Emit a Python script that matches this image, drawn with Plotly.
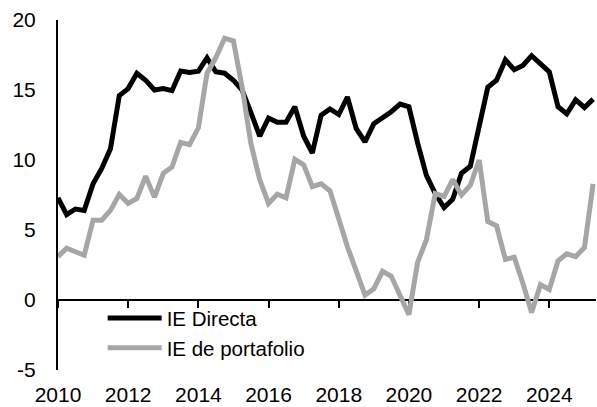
import pandas as pd
import plotly.graph_objects as go

# quarterly, 2010Q1 .. 2025Q2
quarters = pd.date_range("2010-01-01", periods=62, freq="QS")

ie_directa = [
    7.3, 6.1, 6.5, 6.4, 8.3, 9.4, 10.8, 14.6, 15.1, 16.2,
    15.7, 15.0, 15.1, 14.95, 16.35, 16.25, 16.35, 17.3, 16.3, 16.2,
    15.7, 15.0, 13.4, 11.7, 13.0, 12.7, 12.7, 13.8, 11.7, 10.5,
    13.2, 13.65, 13.25, 14.5, 12.25, 11.3, 12.6, 13.0, 13.45, 14.0,
    13.8, 11.2, 8.9, 7.6, 6.6, 7.2, 9.05, 9.55, 12.3, 15.2,
    15.7, 17.15, 16.45, 16.75, 17.45, 16.9, 16.3, 13.8, 13.3, 14.3,
    13.75, 14.35,
]
ie_portafolio = [
    3.1, 3.7, 3.45, 3.2, 5.7, 5.7, 6.4, 7.55, 6.9, 7.25,
    8.85, 7.35, 9.05, 9.5, 11.25, 11.1, 12.3, 16.2, 17.3, 18.7,
    18.5, 15.2, 11.2, 8.6, 6.9, 7.55, 7.3, 10.05, 9.65, 8.1,
    8.3, 7.8, 5.8, 3.8, 2.1, 0.35, 0.8, 2.05, 1.7, 0.35,
    -1.05, 2.7, 4.3, 7.6, 7.4, 8.6, 7.5, 8.2, 10.0, 5.6,
    5.3, 2.9, 3.05, 1.2, -0.9, 1.1, 0.75, 2.8, 3.3, 3.1,
    3.75, 8.3,
]

y_ticks = [-5, 0, 5, 10, 15, 20]
y_ticktext = ["-5", "0", "5", "10", "15", "20"]

FONT = "Arial, 'Liberation Sans', sans-serif"
x_range = ["2010-01-01", "2025-05-01"]

fig = go.Figure()
fig.add_trace(go.Scatter(
    x=quarters, y=ie_directa, name="IE Directa", mode="lines",
    line=dict(color="#000000", width=5), xaxis="x", yaxis="y",
))
fig.add_trace(go.Scatter(
    x=quarters, y=ie_portafolio, name="IE de portafolio", mode="lines",
    line=dict(color="#A6A6A6", width=5), xaxis="x2", yaxis="y",
))

fig.update_layout(
    width=597, height=407,
    margin=dict(l=58, r=1, t=20, b=37),
    paper_bgcolor="white", plot_bgcolor="white",
    font=dict(family=FONT, size=21, color="#000000"),
    showlegend=True,
    legend=dict(
        x=0.083, y=0.205, xanchor="left", yanchor="top",
        bgcolor="rgba(0,0,0,0)", itemwidth=54,
        font=dict(size=20.5), tracegroupgap=0,
    ),
    # tick labels at the bottom
    xaxis=dict(
        type="date", range=x_range, tick0="2010-01-01", dtick="M24",
        tickformat="%Y", showgrid=False, zeroline=False, showline=False,
        ticks="", ticklabelstandoff=10, anchor="y",
    ),
    # axis line with tick marks crossing at y = 0
    xaxis2=dict(
        type="date", matches="x", overlaying="x", anchor="free",
        position=0.2, showline=True, linecolor="#000000", linewidth=2,
        ticks="outside", ticklen=7, tickwidth=2, tickcolor="#000000",
        tick0="2010-01-01", dtick="M24",
        showticklabels=False, showgrid=False, zeroline=False,
        layer="below traces",
    ),
    yaxis=dict(
        range=[-5, 20], tickvals=y_ticks, ticktext=y_ticktext,
        showgrid=False, zeroline=False, showline=True,
        linecolor="#000000", linewidth=2, ticks="",
        ticklabelstandoff=16, layer="below traces",
    ),
)

fig.write_html(
    "out.html",
    config={"displayModeBar": False},
    post_script="document.body.style.margin='0';",
)
